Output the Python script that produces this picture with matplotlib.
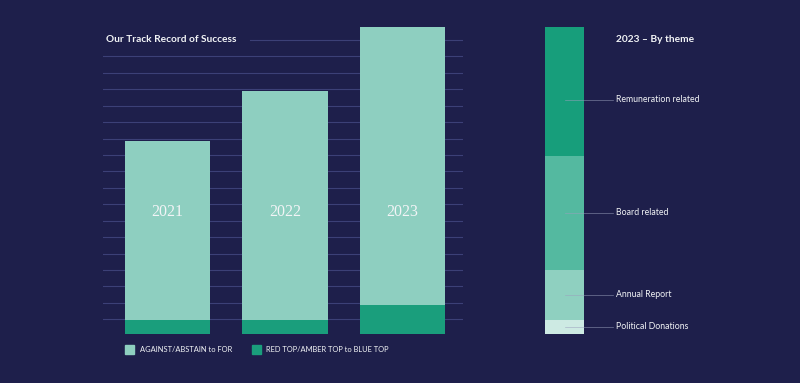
import matplotlib
matplotlib.use("Agg")
import matplotlib.pyplot as plt
from matplotlib.patches import Rectangle
import numpy as np

# data
years = ["2021", "2022", "2023"]
against_to_for = [25, 32, 39]
red_amber_to_blue = [2, 2, 4]
legend_labels = ["AGAINST/ABSTAIN to FOR", "RED TOP/AMBER TOP to BLUE TOP"]

themes = ["Political Donations", "Annual Report", "Board related", "Remuneration related"]
theme_counts = [2, 7, 16, 18]

BG = "#1e1f4b"
LIGHT = "#8ecfc0"
DARK = "#1a9e7c"
THEME_COLORS = ["#cdeae3", "#8fd0c0", "#54b9a0", "#179e7b"]
GRID = "#3c4077"
TXT = "#f2f4f6"

plt.rcParams["font.family"] = ["Lato", "DejaVu Sans"]

W, H = 800, 383
fig = plt.figure(figsize=(W / 100, H / 100), dpi=100, facecolor=BG)

def fx(px):
    return px / W

def fy(py):
    return 1 - py / H

base_px, top_px = 334.0, 27.3
ymax = 43

# left chart
ax = fig.add_axes([fx(103), fy(base_px), fx(463) - fx(103), fy(top_px) - fy(base_px)])
ax.set_facecolor(BG)
ax.set_xlim(-0.549, 2.515)
ax.set_ylim(0, ymax)
ax.axis("off")

px_per_unit = (base_px - top_px) / ymax
grid_px = np.linspace(40, 319.3, 18)
for i, gp in enumerate(grid_px):
    gy = (base_px - gp) / px_per_unit
    xmin = (250 - 103) / 360 if i == 0 else 0
    ax.axhline(gy, xmin=xmin, xmax=1, color=GRID, lw=0.8, zorder=0)

x = np.arange(len(years))
ax.bar(x, red_amber_to_blue, width=0.725, color=DARK, zorder=2)
ax.bar(x, against_to_for, width=0.725, bottom=red_amber_to_blue, color=LIGHT, zorder=2)

for xi, yr in zip(x, years):
    ax.text(xi, (base_px - 212) / px_per_unit, yr, ha="center", va="center",
            color=TXT, fontsize=11.5, family=["Liberation Serif", "DejaVu Serif"], zorder=3)

fig.text(fx(106), fy(40), "Our Track Record of Success", color=TXT,
         fontsize=7.3, fontweight="bold", ha="left", va="center")

# legend
for sx, tx, col, lab in [(125, 139.5, LIGHT, legend_labels[0]),
                         (251.7, 265.7, DARK, legend_labels[1])]:
    fig.patches.append(Rectangle((fx(sx), fy(353.5)), fx(9), fy(344.5) - fy(353.5),
                                 transform=fig.transFigure, color=col, figure=fig))
    fig.text(fx(tx), fy(349), lab, color=TXT, fontsize=5.4, ha="left", va="center")

# right chart
ax2 = fig.add_axes([fx(545), fy(base_px), fx(584) - fx(545), fy(top_px) - fy(base_px)])
ax2.set_facecolor(BG)
ax2.set_xlim(-0.5, 0.5)
ax2.set_ylim(0, ymax)
ax2.axis("off")

bottom = 0
for name, cnt, col in zip(themes, theme_counts, THEME_COLORS):
    ax2.bar(0, cnt, width=1, bottom=bottom, color=col)
    mid = bottom + cnt / 2
    ypx = base_px - mid * px_per_unit
    if name == "Remuneration related":
        ypx = 100
    fig.lines.append(plt.Line2D([fx(565), fx(613)], [fy(ypx), fy(ypx)],
                                transform=fig.transFigure, color="#9aa0bd", lw=0.5, alpha=0.7))
    fig.text(fx(616), fy(ypx), name, color=TXT, fontsize=6.3, ha="left", va="center")
    bottom += cnt

fig.text(fx(616), fy(39), "2023 \u2013 By theme", color=TXT,
         fontsize=7.3, fontweight="bold", ha="left", va="center")

fig.savefig("out.png", dpi=100, facecolor=BG)
